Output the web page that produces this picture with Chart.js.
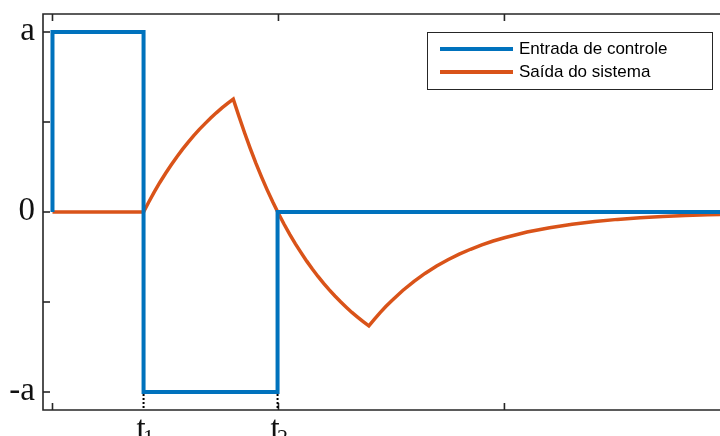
<!DOCTYPE html>
<html>
<head>
<meta charset="utf-8">
<script src="https://cdn.jsdelivr.net/npm/chart.js@4/dist/chart.umd.min.js"></script>
<style>
    html, body { margin: 0; padding: 0; background: #fff; }
    #wrap { width: 720px; height: 436px; }
</style>
</head>
<body>
<div id="wrap"><canvas id="chart" width="720" height="436"></canvas></div>
<script>
// Control input (square pulse sequence)
const inputTime = [0, 0, 0.403, 0.403, 0.996, 0.996, 3.0];
const inputValues = [0, 1, 1, -1, -1, 0, 0];

// System output
const outputTime = [0, 0.403,
    0.425, 0.45, 0.475, 0.50, 0.525, 0.55, 0.575, 0.60, 0.625, 0.65, 0.675, 0.70, 0.725, 0.75, 0.775, 0.80,
    0.825, 0.85, 0.875, 0.90, 0.925, 0.95, 0.975, 1.00, 1.025, 1.05, 1.075, 1.10, 1.125, 1.15, 1.175, 1.20,
    1.225, 1.25, 1.275, 1.30, 1.325, 1.35, 1.375, 1.40,
    1.425, 1.45, 1.475, 1.50, 1.55, 1.60, 1.65, 1.70, 1.75, 1.80, 1.85, 1.90, 1.95, 2.00,
    2.10, 2.20, 2.30, 2.40, 2.50, 2.60, 2.70, 2.80, 2.90, 3.00];
const outputValues = [0, 0,
    0.053, 0.110, 0.164, 0.214, 0.261, 0.306, 0.348, 0.387, 0.424, 0.459, 0.491, 0.522, 0.551, 0.578, 0.603, 0.627,
    0.532, 0.440, 0.353, 0.271, 0.195, 0.123, 0.055, -0.008, -0.068, -0.124, -0.177, -0.226, -0.273, -0.317, -0.358, -0.397,
    -0.433, -0.467, -0.499, -0.529, -0.558, -0.584, -0.609, -0.633,
    -0.595, -0.559, -0.525, -0.494, -0.436, -0.385, -0.340, -0.300, -0.265, -0.234, -0.207, -0.183, -0.161, -0.143,
    -0.111, -0.087, -0.068, -0.053, -0.041, -0.032, -0.025, -0.020, -0.015, -0.012];

const seriesNames = ['Entrada de controle', 'Saída do sistema'];
const seriesColors = ['#0072BD', '#D95319'];

const yTicks = [-1, -0.5, 0, 0.5, 1];
const yTickLabels = ['-a', '', '0', '', 'a'];
const xTicks = [0, 1, 2];
const markerTimes = [0.403, 0.996];
const markerSubs = ['1', '2'];

const axisColor = '#262626';

function toPoints(xs, ys) {
    return xs.map((x, i) => ({ x: x, y: ys[i] }));
}

// MATLAB-like box: inward ticks, serif labels, in-plot legend
const matlabAxes = {
    id: 'matlabAxes',
    afterDatasetsDraw(chart) {
        const { ctx, chartArea: a, scales: { x, y } } = chart;
        ctx.save();

        // box (left, top, bottom)
        ctx.strokeStyle = axisColor;
        ctx.lineWidth = 1.6;
        ctx.beginPath();
        ctx.moveTo(a.right, a.top);
        ctx.lineTo(a.left, a.top);
        ctx.lineTo(a.left, a.bottom);
        ctx.lineTo(a.right, a.bottom);
        ctx.stroke();

        // y ticks + labels
        ctx.font = '33px "Liberation Serif", "DejaVu Serif", serif';
        ctx.fillStyle = '#111';
        ctx.textAlign = 'right';
        ctx.textBaseline = 'middle';
        yTicks.forEach((v, i) => {
            const py = y.getPixelForValue(v);
            ctx.beginPath();
            ctx.moveTo(a.left, py);
            ctx.lineTo(a.left + 7, py);
            ctx.stroke();
            if (yTickLabels[i]) {
                ctx.fillText(yTickLabels[i], a.left - 8, py - 1);
            }
        });

        // x ticks (top and bottom, inward)
        xTicks.forEach(v => {
            const px = x.getPixelForValue(v);
            ctx.beginPath();
            ctx.moveTo(px, a.top);
            ctx.lineTo(px, a.top + 7);
            ctx.moveTo(px, a.bottom);
            ctx.lineTo(px, a.bottom - 7);
            ctx.stroke();
        });

        // dotted markers t1, t2
        ctx.strokeStyle = '#000';
        ctx.lineWidth = 2;
        ctx.setLineDash([2, 2]);
        markerTimes.forEach(t => {
            const px = x.getPixelForValue(t);
            ctx.beginPath();
            ctx.moveTo(px, y.getPixelForValue(-1) + 2);
            ctx.lineTo(px, a.bottom);
            ctx.stroke();
        });
        ctx.setLineDash([]);

        ctx.textAlign = 'left';
        ctx.textBaseline = 'alphabetic';
        markerTimes.forEach((t, i) => {
            const px = x.getPixelForValue(t);
            ctx.font = '33px "Liberation Serif", "DejaVu Serif", serif';
            ctx.fillText('t', px - 7, 439);
            ctx.font = '22px "Liberation Serif", "DejaVu Serif", serif';
            ctx.fillText(markerSubs[i], px - 0.5, 444);
        });

        // legend
        const lx = 427, ly = 32, lw = 285, lh = 57;
        ctx.fillStyle = '#fff';
        ctx.fillRect(lx, ly, lw, lh);
        ctx.strokeStyle = axisColor;
        ctx.lineWidth = 1;
        ctx.strokeRect(lx + 0.5, ly + 0.5, lw, lh);
        ctx.font = '17px "Liberation Sans", Arial, sans-serif';
        ctx.fillStyle = '#000';
        ctx.textBaseline = 'middle';
        seriesNames.forEach((name, i) => {
            const rowY = ly + 17 + i * 23;
            ctx.strokeStyle = seriesColors[i];
            ctx.lineWidth = 4;
            ctx.beginPath();
            ctx.moveTo(440, rowY);
            ctx.lineTo(513, rowY);
            ctx.stroke();
            ctx.fillText(name, 519, rowY);
        });

        ctx.restore();
    }
};

const chart = new Chart(document.getElementById('chart'), {
    type: 'line',
    data: {
        datasets: [
            {
                label: seriesNames[0],
                data: toPoints(inputTime, inputValues),
                borderColor: seriesColors[0],
                borderWidth: 4,
                pointRadius: 0,
                tension: 0
            },
            {
                label: seriesNames[1],
                data: toPoints(outputTime, outputValues),
                borderColor: seriesColors[1],
                borderWidth: 3.5,
                pointRadius: 0,
                tension: 0
            }
        ]
    },
    options: {
        responsive: false,
        animation: false,
        devicePixelRatio: 1,
        layout: {
            padding: { left: 43, top: 14, right: 0, bottom: 26 }
        },
        scales: {
            x: { type: 'linear', min: -0.042, max: 2.954, display: false },
            y: { type: 'linear', min: -1.1, max: 1.1, display: false }
        },
        plugins: {
            legend: { display: false },
            tooltip: { enabled: false }
        }
    },
    plugins: [matlabAxes]
});
</script>
</body>
</html>
